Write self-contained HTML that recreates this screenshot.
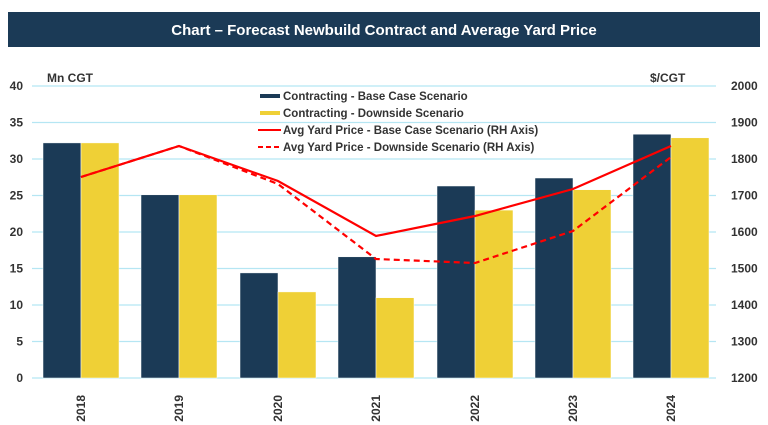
<!DOCTYPE html>
<html><head><meta charset="utf-8"><style>
html,body{margin:0;padding:0;background:#fff;}
svg{display:block;font-family:"Liberation Sans",Arial,sans-serif;}
</style></head><body>
<svg width="768" height="425" viewBox="0 0 768 425">
<rect x="8" y="12" width="752" height="35" fill="#1b3a56"/>
<text x="384" y="35" text-anchor="middle" fill="#fff" font-size="15" font-weight="bold">Chart – Forecast Newbuild Contract and Average Yard Price</text>
<g stroke="#b5e6f3" stroke-width="1.2">
<line x1="32" x2="716" y1="86" y2="86"/><line x1="32" x2="716" y1="122.5" y2="122.5"/>
<line x1="32" x2="716" y1="159" y2="159"/><line x1="32" x2="716" y1="195.5" y2="195.5"/>
<line x1="32" x2="716" y1="232" y2="232"/><line x1="32" x2="716" y1="268.5" y2="268.5"/>
<line x1="32" x2="716" y1="305" y2="305"/><line x1="32" x2="716" y1="341.5" y2="341.5"/>
<line x1="32" x2="716" y1="378" y2="378"/>
</g>
<g font-size="12" font-weight="bold" fill="#333" text-anchor="end">
<text x="23" y="90">40</text><text x="23" y="126.5">35</text><text x="23" y="163">30</text>
<text x="23" y="199.5">25</text><text x="23" y="236">20</text><text x="23" y="272.5">15</text>
<text x="23" y="309">10</text><text x="23" y="345.5">5</text><text x="23" y="382">0</text>
</g>
<g font-size="12" font-weight="bold" fill="#333" text-anchor="start">
<text x="731" y="90">2000</text><text x="731" y="126.5">1900</text><text x="731" y="163">1800</text>
<text x="731" y="199.5">1700</text><text x="731" y="236">1600</text><text x="731" y="272.5">1500</text>
<text x="731" y="309">1400</text><text x="731" y="345.5">1300</text><text x="731" y="382">1200</text>
</g>
<text x="47" y="82" font-size="12" font-weight="bold" fill="#333">Mn CGT</text>
<text x="650" y="82" font-size="12" font-weight="bold" fill="#333">$/CGT</text>
<g stroke="#fff" stroke-width="0.5">
<rect x="43" y="142.9" width="38" height="235.1" fill="#1b3a56"/><rect x="81" y="142.9" width="38" height="235.1" fill="#efd036"/>
<rect x="141" y="194.8" width="38" height="183.2" fill="#1b3a56"/><rect x="179" y="194.8" width="38" height="183.2" fill="#efd036"/>
<rect x="240" y="272.9" width="38" height="105.1" fill="#1b3a56"/><rect x="278" y="291.9" width="38" height="86.1" fill="#efd036"/>
<rect x="338" y="256.8" width="38" height="121.2" fill="#1b3a56"/><rect x="376" y="297.7" width="38" height="80.3" fill="#efd036"/>
<rect x="437" y="186" width="38" height="192" fill="#1b3a56"/><rect x="475" y="210.1" width="38" height="167.9" fill="#efd036"/>
<rect x="535" y="178" width="38" height="200" fill="#1b3a56"/><rect x="573" y="189.7" width="38" height="188.3" fill="#efd036"/>
<rect x="633" y="134.2" width="38" height="243.8" fill="#1b3a56"/><rect x="671" y="137.8" width="38" height="240.2" fill="#efd036"/>
</g>
<polyline points="81,177 179,146 278,184 376,259 475,263 573,231 671,157" fill="none" stroke="#f00" stroke-width="2.2" stroke-dasharray="6,4"/>
<polyline points="81,177 179,146 278,181 376,236 475,216 573,189 671,146" fill="none" stroke="#f00" stroke-width="2.2"/>
<g font-size="12" font-weight="bold" fill="#333" text-anchor="middle">
<text transform="translate(85,395) rotate(-90)" text-anchor="end" x="0" y="0">2018</text>
<text transform="translate(183,395) rotate(-90)" text-anchor="end">2019</text>
<text transform="translate(282,395) rotate(-90)" text-anchor="end">2020</text>
<text transform="translate(380,395) rotate(-90)" text-anchor="end">2021</text>
<text transform="translate(479,395) rotate(-90)" text-anchor="end">2022</text>
<text transform="translate(577,395) rotate(-90)" text-anchor="end">2023</text>
<text transform="translate(675,395) rotate(-90)" text-anchor="end">2024</text>
</g>
<g font-size="11.5" font-weight="bold" fill="#333">
<rect x="260" y="94" width="20" height="4" fill="#1b3a56"/><text x="283" y="100">Contracting - Base Case Scenario</text>
<rect x="260" y="111" width="20" height="4" fill="#efd036"/><text x="283" y="117">Contracting - Downside Scenario</text>
<line x1="258" x2="281" y1="130" y2="130" stroke="#f00" stroke-width="2"/><text x="283" y="134">Avg Yard Price - Base Case Scenario (RH Axis)</text>
<line x1="258" x2="281" y1="147" y2="147" stroke="#f00" stroke-width="2" stroke-dasharray="5,3"/><text x="283" y="151">Avg Yard Price - Downside Scenario (RH Axis)</text>
</g>
</svg>
</body></html>
